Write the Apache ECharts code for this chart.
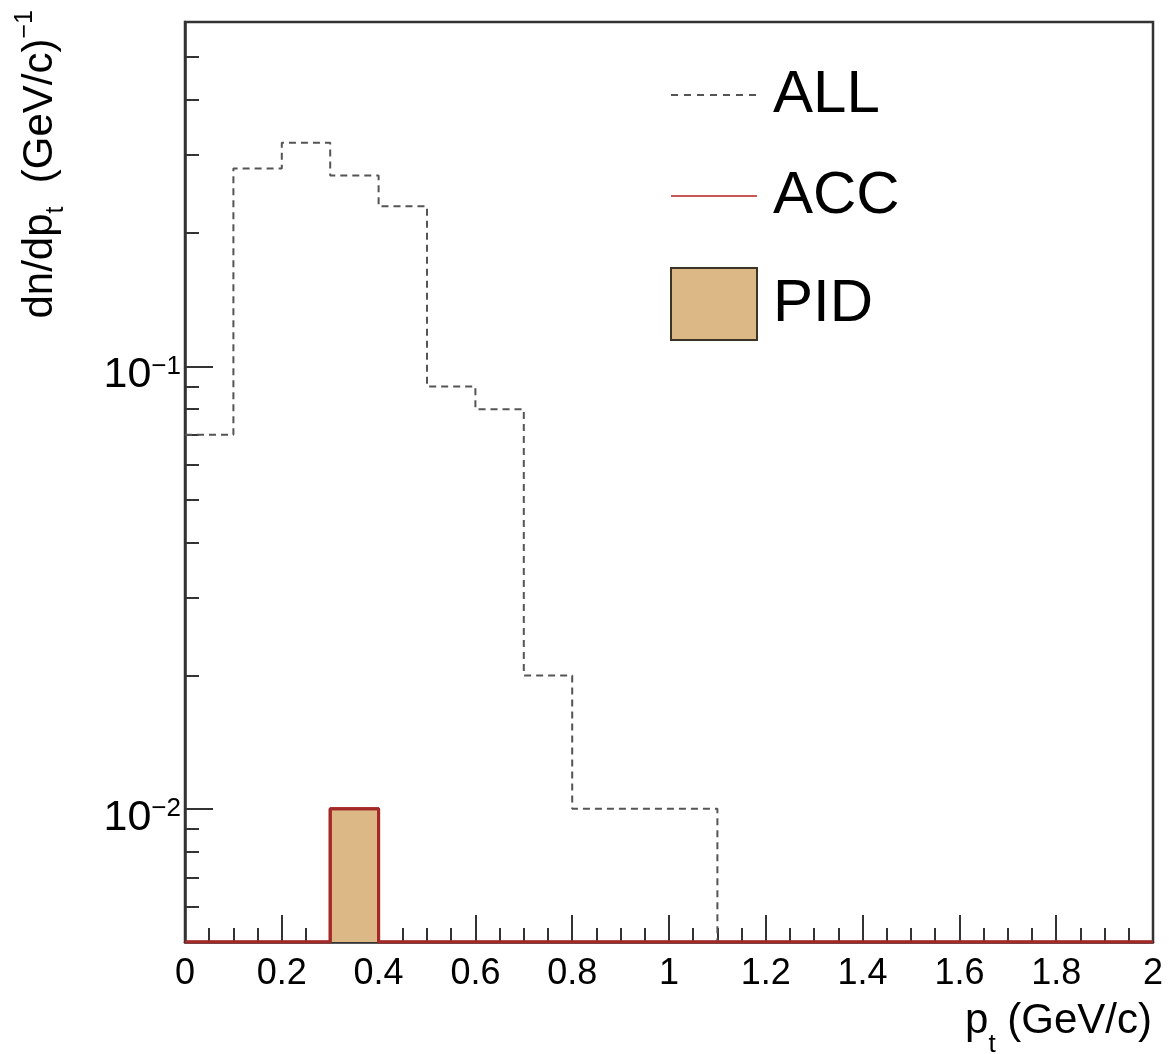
<!DOCTYPE html>
<html><head><meta charset="utf-8">
<script src="https://cdn.jsdelivr.net/npm/echarts@6/dist/echarts.min.js"></script>
<style>html,body{margin:0;padding:0;background:#fff}#c{width:1169px;height:1054px}</style>
</head><body><div id="c"></div>
<script>
// ---- data ----
const binEdges = [0,0.1,0.2,0.3,0.4,0.5,0.6,0.7,0.8,0.9,1.0,1.1,1.2,1.3,1.4,1.5,1.6,1.7,1.8,1.9,2.0];
const allValues = [0.07,0.28,0.32,0.27,0.23,0.09,0.08,0.02,0.01,0.01,0.01,0,0,0,0,0,0,0,0,0];
const accValues = [0,0,0,0.01,0,0,0,0,0,0,0,0,0,0,0,0,0,0,0,0];
const pidValues = [0,0,0,0.01,0,0,0,0,0,0,0,0,0,0,0,0,0,0,0,0];
const seriesNames = ['ALL','ACC','PID'];
const xRange = [0, 2];
const xTickStep = 0.2;
const yRange = [0.005, 0.6];
const yMajorTicks = [0.01, 0.1];
const yMinorTicks = [0.006,0.007,0.008,0.009,0.02,0.03,0.04,0.05,0.06,0.07,0.08,0.09,0.2,0.3,0.4,0.5];

const FONT = "'Liberation Sans', Arial, Helvetica, sans-serif";
function stepData(vals){
  const pts = vals.map((v,i)=>[binEdges[i], Math.max(v, yRange[0])]);
  pts.push([binEdges[vals.length], Math.max(vals[vals.length-1], yRange[0])]);
  return pts;
}
const hidden = {color:'rgba(0,0,0,0)', borderColor:'rgba(0,0,0,0)', borderWidth:0, opacity:0};
const chart = echarts.init(document.getElementById('c'), null, {renderer:'canvas'});
const option = {
  animation: false,
  backgroundColor: '#fff',
  grid: {left:185, right:16, top:22, bottom:112, show:true, borderColor:'#333', borderWidth:2.5, backgroundColor:'transparent'},
  xAxis: {
    type:'value', min:xRange[0], max:xRange[1], interval:xTickStep,
    axisLine:{show:true, lineStyle:{color:'#333', width:2.5}},
    axisTick:{show:true, inside:true, length:27, lineStyle:{color:'#333', width:2}},
    minorTick:{show:true, splitNumber:4, length:14, lineStyle:{color:'#333', width:2}},
    splitLine:{show:false},
    axisLabel:{color:'#000', fontSize:36, fontFamily:FONT, margin:14,
      formatter: v => String(Math.round(v*10)/10)}
  },
  yAxis: [{
    type:'log', logBase:10, min:yRange[0], max:yRange[1],
    axisLine:{show:true, lineStyle:{color:'#333', width:2.5}},
    axisTick:{show:true, inside:true, length:28, customValues:yMajorTicks, lineStyle:{color:'#333', width:2}},
    splitLine:{show:false}, minorTick:{show:false}, minorSplitLine:{show:false},
    axisLabel:{customValues:yMajorTicks, margin:4, padding:[18,0,0,0],
      formatter: v => '{b|10}{s|\u2212' + Math.round(-Math.log10(v)) + '}',
      rich:{
        b:{fontSize:43, lineHeight:43, fontFamily:FONT, color:'#000', verticalAlign:'top'},
        s:{fontSize:26, lineHeight:26, fontFamily:FONT, color:'#000', verticalAlign:'top'}
      }}
  },{
    type:'log', logBase:10, min:yRange[0], max:yRange[1], position:'left',
    axisLine:{show:false},
    axisTick:{show:true, inside:true, length:14, customValues:yMinorTicks, lineStyle:{color:'#333', width:2}},
    axisLabel:{show:false}, splitLine:{show:false}, minorTick:{show:false}
  }],
  legend: {
    orient:'vertical', left:665, top:60, itemWidth:86, itemHeight:72, itemGap:41,
    textStyle:{fontSize:60, fontFamily:FONT, color:'#000', padding:[0,0,0,11]},
    data:[
      {name:'ALL', itemStyle:hidden, lineStyle:{color:'#555', width:2, type:[7,6]}},
      {name:'ACC', itemStyle:hidden, lineStyle:{width:2, color:'#c85858', type:'solid'}},
      {name:'PID', icon:'rect', itemStyle:{color:'#dcb886', borderColor:'#3b3324', borderWidth:2, opacity:1}}
    ]
  },
  series: [
    {name:seriesNames[2], type:'line', step:'end', data:stepData(pidValues), symbol:'none', z:1,
     itemStyle:{color:'#dcb886'}, lineStyle:{color:'#a52828', width:3},
     areaStyle:{color:'#dcb886', opacity:1, origin:'start'}},
    {name:seriesNames[0], type:'line', step:'end', data:stepData(allValues), symbol:'none', z:2,
     itemStyle:{color:'#555'}, lineStyle:{color:'#555', width:2, type:[7,5]}},
    {name:seriesNames[1], type:'line', step:'end', data:stepData(accValues), symbol:'none', z:3,
     itemStyle:{color:'#a52828'}, lineStyle:{color:'#a52828', width:3}}
  ],
  graphic: [
    {type:'text', x:1152, y:1000, z:10,
     style:{text:'{n|p}{sub|t}{n| (GeV/c)}', align:'right', verticalAlign:'top',
       rich:{
         n:{fontSize:42, lineHeight:42, fontFamily:FONT, fill:'#000', verticalAlign:'top'},
         sub:{fontSize:26, lineHeight:26, fontFamily:FONT, fill:'#000', verticalAlign:'top', padding:[32,0,0,0]}
       }}},
    {type:'text', x:13, y:10, rotation:Math.PI/2, z:10,
     style:{text:'{m|dn/dp}{sub|t}{m|  (GeV/c)}{sup|\u22121}', align:'right', verticalAlign:'top',
       rich:{
         m:{fontSize:42, lineHeight:42, fontFamily:FONT, fill:'#000', verticalAlign:'top', padding:[6,0,0,0]},
         sub:{fontSize:25, lineHeight:25, fontFamily:FONT, fill:'#000', verticalAlign:'top', padding:[31,0,0,0]},
         sup:{fontSize:25, lineHeight:25, fontFamily:FONT, fill:'#000', verticalAlign:'top'}
       }}}
  ]
};
chart.setOption(option);
</script></body></html>
